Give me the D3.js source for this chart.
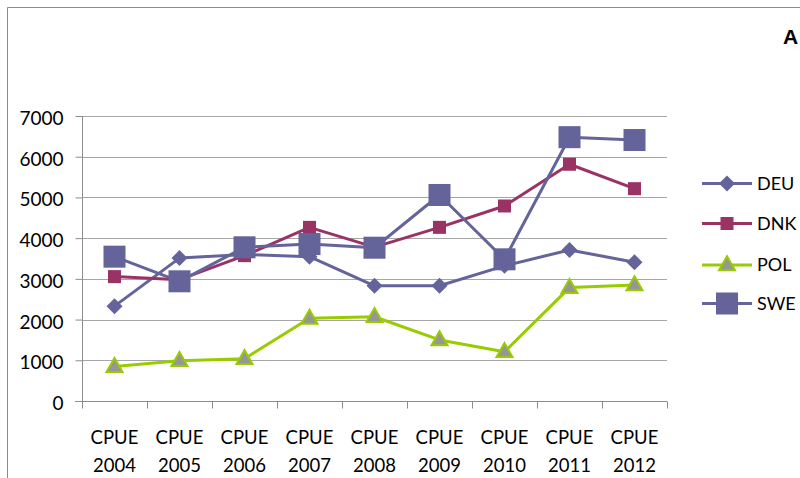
<!DOCTYPE html>
<html><head><meta charset="utf-8">
<script src="https://cdn.jsdelivr.net/npm/d3@7"></script>
<style>body{margin:0;background:#fff}svg{display:block}</style>
</head><body>
<svg id="c" width="800" height="478"></svg>
<script>
const categories = ["CPUE 2004","CPUE 2005","CPUE 2006","CPUE 2007","CPUE 2008","CPUE 2009","CPUE 2010","CPUE 2011","CPUE 2012"];
const deu = [2330, 3510, 3600, 3545, 2830, 2830, 3320, 3710, 3410];
const dnk = [3055, 2980, 3570, 4265, 3780, 4265, 4790, 5815, 5215];
const pol = [845, 990, 1040, 2030, 2070, 1500, 1210, 2785, 2850];
const swe = [3545, 2940, 3775, 3855, 3765, 5060, 3480, 6480, 6410];
const yTicks = [0, 1000, 2000, 3000, 4000, 5000, 6000, 7000];
const seriesNames = ["DEU", "DNK", "POL", "SWE"];

const font = "Lato, 'Open Sans', sans-serif";
const svg = d3.select("#c");
const W = 800, H = 478;
const x0 = 82, x1 = 667, yTop = 116, yBot = 401;

// outer chart border
svg.append("line").attr("x1", 7.5).attr("x2", W).attr("y1", 7.5).attr("y2", 7.5).attr("stroke", "#8c8c8c").attr("stroke-width", 1);
svg.append("line").attr("x1", 7.5).attr("x2", 7.5).attr("y1", 7.5).attr("y2", H).attr("stroke", "#8c8c8c").attr("stroke-width", 1);

// title (clipped in the reference)
svg.append("text").attr("x", 783).attr("y", 44).attr("font-family", "'Liberation Sans', Arial, sans-serif")
  .attr("font-weight", "bold").attr("font-size", 21).attr("fill", "#000").text("A");

const x = d3.scaleBand().domain(categories).range([x0, x1]);
const y = d3.scaleLinear().domain([0, 7000]).range([yBot, yTop]);

// gridlines
svg.append("g").selectAll("line").data(yTicks.filter(d => d > 0)).join("line")
  .attr("x1", x0).attr("x2", x1)
  .attr("y1", d => Math.round(y(d)) + 0.5).attr("y2", d => Math.round(y(d)) + 0.5)
  .attr("stroke", "#a6a6a6").attr("stroke-width", 1.2);

// y axis
const yAxis = d3.axisLeft(y).tickValues(yTicks).tickSize(7).tickPadding(12).tickFormat(d3.format("d"));
const gy = svg.append("g").attr("transform", `translate(${x0 + 0.5},0)`).call(yAxis);
gy.select(".domain").attr("stroke", "#8c8c8c").attr("d", `M0,${yTop}V${yBot}`);
gy.selectAll(".tick line").attr("stroke", "#8c8c8c");
gy.selectAll(".tick text").attr("font-family", font).attr("font-size", 19).attr("fill", "#000").attr("dy", "0.45em");

// x axis
const gx = svg.append("g").attr("transform", `translate(0,${yBot + 0.5})`);
gx.append("line").attr("x1", x0 - 7).attr("x2", x1).attr("stroke", "#8c8c8c");
const edges = categories.map(c => x(c)).concat([x1]);
gx.selectAll("line.t").data(edges).join("line").attr("class", "t")
  .attr("x1", d => Math.round(d) + 0.5).attr("x2", d => Math.round(d) + 0.5).attr("y1", 0).attr("y2", 7)
  .attr("stroke", "#8c8c8c");
const lab = gx.selectAll("text").data(categories).join("text")
  .attr("x", d => x(d) + x.bandwidth() / 2).attr("text-anchor", "middle")
  .attr("font-family", font).attr("font-size", 18.5).attr("fill", "#000");
lab.append("tspan").attr("x", d => x(d) + x.bandwidth() / 2).attr("y", 42).text(d => d.split(" ")[0]);
lab.append("tspan").attr("x", d => x(d) + x.bandwidth() / 2).attr("y", 70).text(d => d.split(" ")[1]);

const cx = d => x(d) + x.bandwidth() / 2;
const line = d3.line().x(d => cx(d[0])).y(d => y(d[1]));

const series = [
  {name: "DEU", values: deu, color: "#64649a", marker: "diamond"},
  {name: "DNK", values: dnk, color: "#993366", marker: "smallsquare"},
  {name: "POL", values: pol, color: "#99cc00", marker: "triangle"},
  {name: "SWE", values: swe, color: "#64649a", marker: "bigsquare"}
];

function drawMarker(g, type, color, px, py) {
  if (type === "diamond") {
    const r = 8;
    g.append("path").attr("d", `M${px},${py - r}L${px + r},${py}L${px},${py + r}L${px - r},${py}Z`).attr("fill", color);
  } else if (type === "smallsquare") {
    const s = 13;
    g.append("rect").attr("x", px - s / 2).attr("y", py - s / 2).attr("width", s).attr("height", s).attr("fill", color);
  } else if (type === "bigsquare") {
    const s = 22;
    g.append("rect").attr("x", px - s / 2).attr("y", py - s / 2).attr("width", s).attr("height", s).attr("fill", color);
  } else if (type === "triangle") {
    const w = 16, h = 14;
    g.append("path").attr("d", `M${px},${py - h * 0.62}L${px + w / 2},${py + h * 0.38}L${px - w / 2},${py + h * 0.38}Z`)
      .attr("fill", "#969696").attr("stroke", "#99cc00").attr("stroke-width", 2).attr("stroke-linejoin", "miter");
  }
}

series.forEach(s => {
  const g = svg.append("g");
  const pts = categories.map((c, i) => [c, s.values[i]]);
  g.append("path").attr("d", line(pts)).attr("fill", "none").attr("stroke", s.color).attr("stroke-width", 3).attr("stroke-linejoin", "round");
  pts.forEach(p => drawMarker(g, s.marker, s.color, cx(p[0]), y(p[1])));
});

// legend
const legY = [183.5, 223.5, 265, 303.5];
series.forEach((s, i) => {
  const g = svg.append("g");
  const ly = legY[i];
  g.append("line").attr("x1", 702).attr("x2", 752).attr("y1", ly).attr("y2", ly).attr("stroke", s.color).attr("stroke-width", 3);
  drawMarker(g, s.marker, s.color, 727, ly);
  g.append("text").attr("x", 757).attr("y", ly).attr("dy", "0.36em").attr("font-family", font).attr("font-size", 18).attr("fill", "#000").text(s.name);
});
</script>
</body></html>
